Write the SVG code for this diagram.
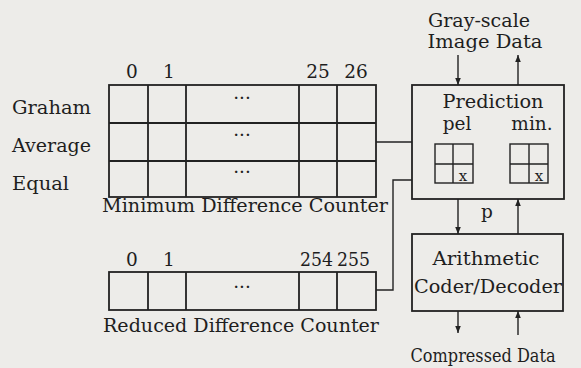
<svg xmlns="http://www.w3.org/2000/svg" width="581" height="368" viewBox="0 0 581 368">
<defs>
<marker id="ah" viewBox="0 0 10 10" refX="10" refY="5" markerWidth="7" markerHeight="7" markerUnits="userSpaceOnUse" orient="auto">
<path d="M0,1 L10,5 L0,9 z" fill="#222"/>
</marker>
<style>
.t{font-family:"DejaVu Serif","Liberation Serif",serif;font-size:18.5px;fill:#1e1e1e}
.c{text-anchor:middle}
.g{fill:none;stroke:#222;stroke-width:1.8}
.l{fill:none;stroke:#222;stroke-width:1.4}
</style>
</defs>
<rect width="581" height="368" fill="#edece9"/>
<g id="min-diff-counter">
<rect class="g" x="109" y="85" width="267" height="112"/>
<path class="g" d="M148,85V197M186,85V197M299,85V197M337,85V197M109,123H376M109,161H376"/>
<text class="t c" x="132" y="78">0</text>
<text class="t c" x="169" y="78">1</text>
<text class="t c" x="318" y="78">25</text>
<text class="t c" x="356" y="78">26</text>
<text class="t" x="12" y="114" textLength="79" lengthAdjust="spacingAndGlyphs">Graham</text>
<text class="t" x="12" y="152" textLength="79" lengthAdjust="spacingAndGlyphs">Average</text>
<text class="t" x="12" y="190" textLength="57" lengthAdjust="spacingAndGlyphs">Equal</text>
<text class="t c" x="242" y="104">···</text>
<text class="t c" x="242" y="141">···</text>
<text class="t c" x="242" y="178">···</text>
<text class="t" x="102" y="212" textLength="286" lengthAdjust="spacingAndGlyphs">Minimum Difference Counter</text>
</g>
<g id="red-diff-counter">
<rect class="g" x="109" y="272" width="267" height="38"/>
<path class="g" d="M148,272V310M186,272V310M299,272V310M337,272V310"/>
<text class="t c" x="132" y="266">0</text>
<text class="t c" x="169" y="266">1</text>
<text class="t" x="300" y="266" textLength="33" lengthAdjust="spacingAndGlyphs">254</text>
<text class="t" x="337" y="266" textLength="33" lengthAdjust="spacingAndGlyphs">255</text>
<text class="t c" x="242" y="293">···</text>
<text class="t" x="103" y="332" textLength="276" lengthAdjust="spacingAndGlyphs">Reduced Difference Counter</text>
</g>
<g id="prediction">
<rect class="g" x="412" y="85" width="152" height="114"/>
<text class="t c" x="493" y="108" textLength="101" lengthAdjust="spacingAndGlyphs">Prediction</text>
<text class="t c" x="457" y="130">pel</text>
<text class="t c" x="532" y="130">min.</text>
<rect class="l" x="435" y="144" width="38" height="39"/>
<path class="l" d="M453,144V183M435,164H473"/>
<text class="t c" x="463" y="181" style="font-size:15px">x</text>
<rect class="l" x="510" y="144" width="38" height="39"/>
<path class="l" d="M529,144V183M510,164H548"/>
<text class="t c" x="539" y="181" style="font-size:15px">x</text>
</g>
<g id="arith">
<rect class="g" x="412" y="234" width="151" height="77"/>
<text class="t c" x="486" y="265" textLength="107" lengthAdjust="spacingAndGlyphs">Arithmetic</text>
<text class="t c" x="488" y="293" textLength="148" lengthAdjust="spacingAndGlyphs">Coder/Decoder</text>
</g>
<g id="labels">
<text class="t c" x="479" y="27" textLength="102" lengthAdjust="spacingAndGlyphs">Gray-scale</text>
<text class="t c" x="485" y="48" textLength="115" lengthAdjust="spacingAndGlyphs">Image Data</text>
<text class="t c" x="487" y="218">p</text>
<text class="t c" x="483" y="362" textLength="145" lengthAdjust="spacingAndGlyphs">Compressed Data</text>
</g>
<g id="connectors">
<path class="l" d="M376,142H412"/>
<path class="l" d="M376,290H393V180H412"/>
<path class="l" d="M458,55V85" marker-end="url(#ah)"/>
<path class="l" d="M518,85V55" marker-end="url(#ah)"/>
<path class="l" d="M458,199V234" marker-end="url(#ah)"/>
<path class="l" d="M518,234V199" marker-end="url(#ah)"/>
<path class="l" d="M458,311V333" marker-end="url(#ah)"/>
<path class="l" d="M518,335V311" marker-end="url(#ah)"/>
</g>
</svg>
